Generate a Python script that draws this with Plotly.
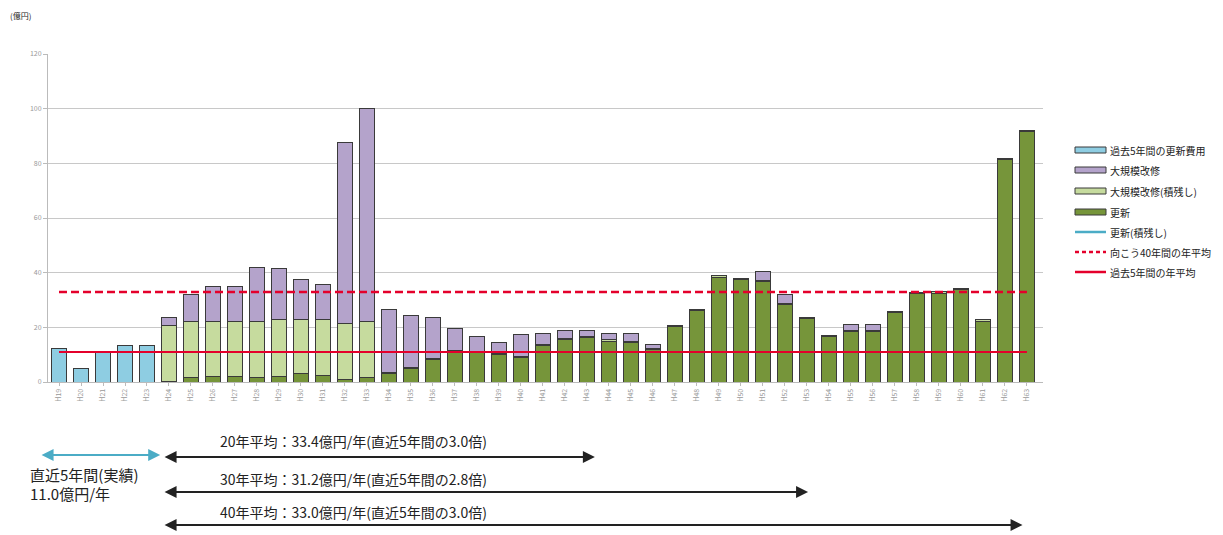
import plotly.graph_objects as go

# Fiscal years: 5 past years followed by a 40-year outlook
years = [f"H{n}" for n in range(19, 64)]

# Past 5 years of renewal spending (億円)
past_cost = [12.4, 5.1, 10.8, 13.4, 13.3]

# Outlook, 40 years, split by category (億円)
renewal = [0.3, 1.5, 2.0, 2.0, 1.5, 2.0, 3.0, 2.5, 1.0, 1.5,
           3.0, 5.0, 8.3, 11.1, 10.8, 10.0, 9.0, 13.5, 15.6, 16.4,
           15.0, 14.4, 12.0, 20.2, 26.2, 38.3, 37.5, 36.6, 28.3, 23.1,
           16.5, 18.6, 18.6, 25.3, 32.3, 32.5, 33.8, 22.3, 81.3, 91.5]
major_backlog = [20.5, 20.6, 20.3, 20.3, 20.6, 20.7, 19.9, 20.4, 20.4, 20.6,
                 0.4, 0.4, 0.4, 0.4, 0.3, 0.5, 0.3, 0.4, 0.4, 0.4,
                 0.4, 0.4, 0.3, 0.4, 0.4, 0.5, 0.4, 0.4, 0.4, 0.4,
                 0.4, 0.4, 0.4, 0.4, 0.5, 0.5, 0.5, 0.4, 0.5, 0.5]
major_repair = [2.7, 9.9, 12.8, 12.8, 19.7, 18.8, 14.7, 12.6, 66.1, 77.9,
                23.3, 19.1, 15.0, 7.9, 5.5, 4.0, 7.9, 3.9, 2.8, 2.2,
                2.2, 2.8, 1.6, 0.0, 0.0, 0.0, 0.0, 3.6, 3.3, 0.0,
                0.0, 2.2, 2.2, 0.0, 0.0, 0.0, 0.0, 0.0, 0.0, 0.0]

y_ticks = [0, 20, 40, 60, 80, 100, 120]

n_past = len(past_cost)
n_future = len(renewal)
x_past = list(range(n_past))
x_future = list(range(n_past, n_past + n_future))
future_total = [a + b + c for a, b, c in zip(renewal, major_backlog, major_repair)]

avg_past = sum(past_cost) / n_past
avg20 = sum(future_total[:20]) / 20
avg30 = sum(future_total[:30]) / 30
avg40 = sum(future_total[:40]) / 40

C_PAST = "#8ECDE2"
C_MAJOR = "#B4A3CB"
C_BACKLOG = "#C6DB9E"
C_RENEW = "#76953A"
C_BLUE_LINE = "#4BACC6"
C_RED = "#E4002B"
OUTLINE = dict(color="#3A3A3A", width=1)
JP = "Noto Sans CJK JP"

fig = go.Figure()
fig.add_bar(x=x_past, y=past_cost, marker=dict(color=C_PAST, line=OUTLINE),
            name="過去5年間の更新費用", showlegend=False)
fig.add_bar(x=x_future, y=renewal, marker=dict(color=C_RENEW, line=OUTLINE),
            name="更新", showlegend=False)
fig.add_bar(x=x_future, y=major_backlog, marker=dict(color=C_BACKLOG, line=OUTLINE),
            name="大規模改修(積残し)", showlegend=False)
fig.add_bar(x=x_future, y=major_repair, marker=dict(color=C_MAJOR, line=OUTLINE),
            name="大規模改修", showlegend=False)

x_all = [0, n_past + n_future - 1]
fig.add_scatter(x=x_all, y=[avg40, avg40], mode="lines",
                line=dict(color=C_RED, width=2.5, dash="8px,4px"),
                showlegend=False, hoverinfo="skip")
fig.add_scatter(x=x_all, y=[avg_past, avg_past], mode="lines",
                line=dict(color=C_RED, width=2), showlegend=False, hoverinfo="skip")

W, H = 1223, 535
L, R, T, B = 48, 180, 54, 153
plot_w = W - L - R
plot_h = H - T - B


def px_y(p):
    return (H - B - p) / plot_h


def px_x(p):
    return (p - L) / plot_w


shapes = []
annotations = []

# Legend drawn at the right side
legend_items = [
    ("box", C_PAST, "過去5年間の更新費用"),
    ("box", C_MAJOR, "大規模改修"),
    ("box", C_BACKLOG, "大規模改修(積残し)"),
    ("box", C_RENEW, "更新"),
    ("line", C_BLUE_LINE, "更新(積残し)"),
    ("dash", C_RED, "向こう40年間の年平均"),
    ("line", C_RED, "過去5年間の年平均"),
]
leg_y = [150, 170, 191, 212, 232, 252, 272]
for (kind, col, label), py in zip(legend_items, leg_y):
    x0, x1 = px_x(1075), px_x(1106)
    if kind == "box":
        shapes.append(dict(type="rect", xref="paper", yref="paper",
                           x0=x0, x1=x1, y0=px_y(py + 3), y1=px_y(py - 3),
                           fillcolor=col, line=dict(color="#3A3A3A", width=1)))
    else:
        shapes.append(dict(type="line", xref="paper", yref="paper",
                           x0=x0, x1=x1, y0=px_y(py), y1=px_y(py),
                           line=dict(color=col, width=2.5,
                                     dash="4px,3px" if kind == "dash" else "solid")))
    annotations.append(dict(xref="paper", yref="paper", x=px_x(1108), y=px_y(py),
                            xanchor="left", yanchor="middle", showarrow=False,
                            text=label, font=dict(family=JP, size=10, color="#222")))

# Unit label
annotations.append(dict(xref="paper", yref="paper", x=px_x(8), y=px_y(15),
                        xanchor="left", yanchor="middle", showarrow=False,
                        text="(億円)", font=dict(family=JP, size=8, color="#222")))

# Period arrows under the axis
x_start = 4.73
spans = [
    (20, avg20, 24.36, 457, 441),
    (30, avg30, 34.05, 492, 479),
    (40, avg40, 43.8, 525, 512),
]
for yrs, avg, x_end, py, ty in spans:
    annotations.append(dict(xref="x", yref="paper", axref="x", ayref="pixel",
                            x=x_end, y=px_y(py), ax=x_start, ay=0,
                            text="", showarrow=True, arrowhead=2, arrowside="end+start",
                            arrowsize=1.2, arrowwidth=2, arrowcolor="#222"))
    annotations.append(dict(xref="paper", yref="paper", x=px_x(218), y=px_y(ty),
                            xanchor="left", yanchor="middle", showarrow=False,
                            text=f"{yrs}年平均：{avg:.1f}億円/年(直近5年間の{avg / avg_past:.1f}倍)",
                            font=dict(family=JP, size=14, color="#222")))

annotations.append(dict(xref="x", yref="paper", axref="x", ayref="pixel",
                        x=4.6, y=px_y(455), ax=-0.86, ay=0,
                        text="", showarrow=True, arrowhead=2, arrowside="end+start",
                        arrowsize=1.2, arrowwidth=2, arrowcolor=C_BLUE_LINE))
annotations.append(dict(xref="paper", yref="paper", x=px_x(28), y=px_y(474),
                        xanchor="left", yanchor="middle", showarrow=False,
                        text="直近5年間(実績)", font=dict(family=JP, size=15, color="#222")))
annotations.append(dict(xref="paper", yref="paper", x=px_x(28), y=px_y(493),
                        xanchor="left", yanchor="middle", showarrow=False,
                        text=f"{avg_past:.1f}億円/年", font=dict(family=JP, size=15, color="#222")))

fig.update_layout(
    width=W, height=H,
    margin=dict(l=L, r=R, t=T, b=B),
    barmode="stack", bargap=0.3,
    plot_bgcolor="white", paper_bgcolor="white",
    shapes=shapes, annotations=annotations,
    showlegend=False,
    font=dict(family=JP),
)
fig.update_xaxes(range=[-0.5, 44.73], tickmode="array",
                 tickvals=list(range(n_past + n_future)), ticktext=years,
                 tickangle=-90, tickfont=dict(size=7, color="#999"),
                 showgrid=False, showline=True, linecolor="#BBB",
                 ticks="outside", ticklen=3, tickcolor="#BBB", zeroline=False)
fig.update_yaxes(range=[0, 120], tickvals=y_ticks,
                 tickfont=dict(size=7, color="#999"),
                 showgrid=True, gridcolor="#C8C8C8", gridwidth=1,
                 showline=True, linecolor="#BBB", ticks="outside", ticklen=4,
                 tickcolor="#BBB", zeroline=False)

fig.write_html("out.html")
